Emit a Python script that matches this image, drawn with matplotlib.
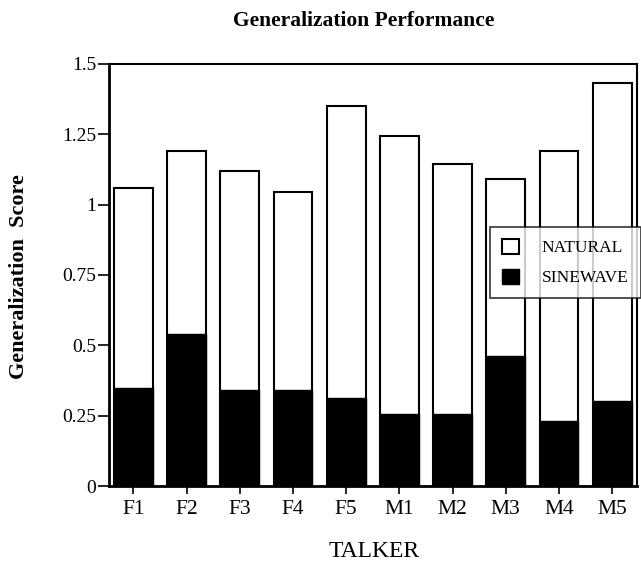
import numpy as np
import matplotlib
matplotlib.use("Agg")
import matplotlib.pyplot as plt
from matplotlib.patches import Patch

talkers = ["F1", "F2", "F3", "F4", "F5", "M1", "M2", "M3", "M4", "M5"]
natural = [1.06, 1.19, 1.12, 1.045, 1.35, 1.245, 1.145, 1.09, 1.19, 1.43]
sinewave = [0.35, 0.54, 0.34, 0.343, 0.313, 0.257, 0.256, 0.463, 0.232, 0.303]
yticks = [0, 0.25, 0.5, 0.75, 1, 1.25, 1.5]
yticklabels = ["0", "0.25", "0.5", "0.75", "1", "1.25", "1.5"]

plt.rcParams['font.family'] = ['Liberation Serif', 'DejaVu Serif']

fig = plt.figure(figsize=(6.41, 5.64), dpi=100)
ax = fig.add_axes([0.170, 0.138, 0.824, 0.749])

x = np.arange(len(talkers))
w = 0.73
ax.bar(x, natural, w, color="white", edgecolor="black", linewidth=1.5, zorder=2)
ax.bar(x, sinewave, w, color="black", edgecolor="black", linewidth=1.0, zorder=3)

ax.set_xlim(-0.46, 9.47)
ax.set_ylim(0, 1.5)
ax.set_yticks(yticks)
ax.set_yticklabels(yticklabels, fontsize=14)
ax.set_xticks(x)
ax.set_xticklabels(talkers, fontsize=15.5)
ax.tick_params(axis="y", direction="out", length=8, width=1.2, pad=1)
ax.tick_params(axis="x", direction="out", length=6, width=1.2, pad=4)

for s in ["left", "bottom"]:
    ax.spines[s].set_linewidth(2.0)
for s in ["top", "right"]:
    ax.spines[s].set_linewidth(1.5)

fig.text(0.568, 0.963, "Generalization Performance", ha="center", va="center",
         fontsize=15.5, fontweight="bold")
fig.text(0.03, 0.51, "Generalization  Score", ha="center", va="center",
         rotation=90, fontsize=16, fontweight="bold")
fig.text(0.583, 0.022, "TALKER", ha="center", va="center", fontsize=17)

handles = [Patch(facecolor="white", edgecolor="black", linewidth=1.5, label="NATURAL"),
           Patch(facecolor="black", edgecolor="black", label="SINEWAVE")]
leg = fig.legend(handles=handles, loc="upper left", bbox_to_anchor=(0.764, 0.598),
                 fontsize=12.5, frameon=True, fancybox=False, edgecolor="black",
                 handlelength=1.0, handleheight=0.95, handletextpad=1.3,
                 borderpad=0.7, labelspacing=0.72, borderaxespad=0)
leg.get_frame().set_linewidth(1.2)

fig.savefig("out.png", dpi=100)
